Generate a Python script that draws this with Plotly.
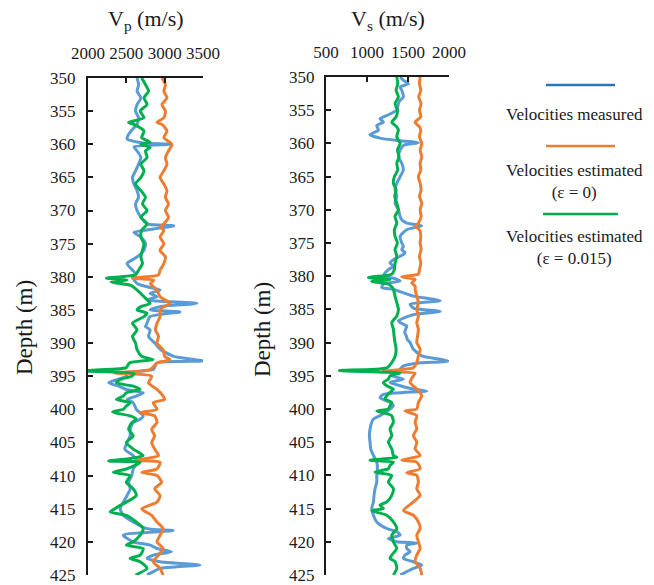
import plotly.graph_objects as go

# ---------------------------------------------------------------------------
# Well-log velocity profiles: P-wave (left track) and S-wave (right track)
# ---------------------------------------------------------------------------

# Vp, measured (m/s)
VP_MEAS_DEPTH = [
    350, 351, 352, 353, 354, 355, 356, 357, 357.5, 358.5,
    359.2, 359.8, 360, 360.4, 361, 362, 363, 364, 365, 366,
    367, 368, 369, 370, 371, 372, 372.3, 372.8, 373.3, 374,
    375, 376, 377, 378, 379, 379.5, 380, 381, 381.5, 382,
    382.5, 383, 383.5, 384, 384.5, 385, 385.3, 386, 387, 387.5,
    388, 389, 390, 391, 392, 392.7, 393, 394, 394.5, 395,
    396, 396.5, 397, 397.5, 398, 398.5, 399, 400, 401, 401.5,
    402, 403, 404, 405, 406, 407, 408, 409, 410, 411,
    412, 413, 414, 415, 416, 417, 418, 418.3, 419, 420,
    420.5, 421, 421.5, 422, 422.5, 423, 423.5, 424, 424.5, 425]
VP_MEAS = [
    2640, 2660, 2640, 2690, 2640, 2620, 2660, 2640, 2600, 2530,
    2510, 2720, 3070, 2600, 2640, 2690, 2660, 2620, 2580, 2600,
    2640, 2660, 2620, 2640, 2690, 2770, 3120, 2850, 2600, 2690,
    2750, 2730, 2640, 2510, 2580, 2620, 2580, 2640, 2770, 2940,
    2810, 2900, 2770, 3420, 2940, 2810, 3200, 2810, 2770, 2750,
    2810, 2790, 2870, 2950, 3120, 3500, 2900, 2850, 2500, 2500,
    2270, 2400, 2500, 2720, 2630, 2510, 2590, 2630, 2720, 2680,
    2590, 2550, 2550, 2510, 2480, 2590, 2640, 2590, 2570, 2530,
    2550, 2510, 2460, 2420, 2460, 2590, 2770, 3110, 2460, 2590,
    2810, 2900, 3090, 2850, 2770, 2940, 3460, 2940, 2850, 2770]

# Vp, estimated with epsilon = 0 (m/s)
VP_EPS0_DEPTH = [
    350, 351, 352, 353, 354, 355, 356, 356.7, 357, 358,
    359, 360, 361, 362, 363, 364, 365, 366, 367, 368,
    369, 370, 371, 372, 372.5, 373, 374, 375, 376, 377,
    378, 379, 379.7, 380.2, 380.5, 381, 382, 383, 384, 384.5,
    385, 386, 387, 388, 389, 390, 391, 392, 392.5, 393,
    394, 394.5, 395, 396, 397, 398, 398.5, 399, 400, 400.5,
    401, 402, 403, 404, 405, 406, 407, 407.7, 408, 409,
    409.5, 410, 411, 412, 413, 414, 415, 416, 417, 418,
    419, 420, 421, 422, 423, 424, 425]
VP_EPS0 = [
    2965, 3010, 2990, 3030, 2965, 3010, 2990, 2900, 2965, 3030,
    2990, 3095, 3050, 3010, 3030, 2990, 2940, 2990, 3030, 3010,
    3050, 3010, 3050, 2990, 2940, 2990, 2940, 2990, 2940, 3010,
    2990, 2940, 2920, 2580, 2860, 2815, 2900, 2940, 3070, 2990,
    2940, 2940, 2900, 2880, 2920, 2900, 2980, 3000, 3070, 2900,
    2810, 2350, 2830, 2790, 2900, 2980, 3000, 2850, 2900, 2680,
    2870, 2900, 2830, 2870, 2830, 2870, 2920, 2630, 2940, 2900,
    2700, 2900, 2960, 2870, 2940, 2900, 2700, 2830, 2900, 2980,
    2940, 2900, 2980, 2920, 2850, 2940, 2980]

# Vp, estimated with epsilon = 0.015 (m/s)
VP_EPS15_DEPTH = [
    350, 351, 352, 353, 354, 355, 356, 356.7, 357, 358,
    359, 359.7, 360, 360.5, 361, 362, 363, 364, 365, 366,
    367, 368, 369, 370, 371, 372, 373, 374, 375, 376,
    377, 378, 379, 379.7, 380.2, 380.5, 380.8, 381.3, 382, 383,
    384, 384.5, 385, 385.5, 386, 387, 388, 389, 390, 391,
    392, 392.5, 393, 393.7, 394.2, 394.6, 395, 395.5, 396, 396.5,
    397, 397.5, 398, 398.5, 399, 399.5, 400, 400.4, 401, 401.5,
    402, 403, 404, 405, 406, 407, 407.5, 407.8, 408, 409,
    409.5, 410, 411, 412, 413, 414, 414.5, 415, 415.5, 416,
    417, 418, 419, 420, 420.5, 421, 422, 422.5, 423, 424,
    425]
VP_EPS15 = [
    2700, 2750, 2790, 2730, 2770, 2680, 2730, 2530, 2600, 2730,
    2700, 2810, 2690, 2810, 2750, 2770, 2690, 2730, 2690, 2620,
    2690, 2750, 2710, 2770, 2690, 2770, 2700, 2690, 2730, 2710,
    2690, 2710, 2660, 2620, 2240, 2510, 2300, 2560, 2640, 2730,
    2810, 2690, 2640, 2770, 2730, 2580, 2640, 2580, 2620, 2640,
    2700, 2850, 2540, 2500, 1900, 2600, 2570, 2420, 2370, 2590,
    2680, 2500, 2460, 2370, 2550, 2500, 2460, 2320, 2550, 2630,
    2570, 2530, 2590, 2500, 2590, 2720, 2500, 2270, 2680, 2500,
    2330, 2550, 2500, 2590, 2630, 2500, 2420, 2350, 2290, 2500,
    2630, 2720, 2680, 2590, 2500, 2720, 2680, 2550, 2680, 2770,
    2620]

# Vs, measured (m/s)
VS_MEAS_DEPTH = [
    350, 350.5, 351, 351.5, 352, 353, 353.5, 354, 355, 355.8,
    356.3, 356.8, 357.3, 358, 358.7, 359.2, 359.6, 359.9, 360.3, 361,
    362, 363, 364, 365, 366, 367, 368, 369, 370, 371,
    371.5, 372, 372.4, 373, 374, 375, 375.5, 376, 376.5, 377,
    377.5, 378, 378.5, 379, 379.5, 380, 380.3, 380.7, 381.2, 381.7,
    382, 382.5, 383, 383.7, 384.2, 384.8, 385.3, 385.8, 386.3, 386.7,
    387, 387.5, 388, 388.5, 389, 389.5, 390, 391, 392, 392.5,
    392.8, 393.1, 393.5, 394, 394.5, 395, 395.5, 396, 396.5, 397,
    397.3, 397.8, 398.3, 399, 399.5, 400, 401, 401.5, 402, 403,
    404, 405, 406, 407, 408, 409, 410, 411, 412, 413,
    414, 415, 416, 417, 418, 418.5, 419, 419.5, 420, 420.2,
    420.5, 421, 421.5, 422, 422.5, 423, 423.5, 424, 424.5, 425]
VS_MEAS = [
    1404, 1444, 1505, 1404, 1424, 1444, 1404, 1383, 1363, 1241,
    1159, 1200, 1119, 1139, 1037, 1159, 1404, 1627, 1444, 1404,
    1383, 1424, 1444, 1404, 1363, 1342, 1363, 1342, 1383, 1404,
    1424, 1485, 1668, 1485, 1404, 1424, 1444, 1424, 1465, 1404,
    1322, 1281, 1322, 1261, 1220, 1200, 1322, 1404, 1200, 1180,
    1322, 1444, 1566, 1892, 1526, 1566, 1892, 1566, 1444, 1383,
    1404, 1485, 1470, 1460, 1480, 1490, 1526, 1566, 1668, 1892,
    1994, 1607, 1444, 1404, 1363, 1302, 1444, 1281, 1404, 1566,
    1729, 1200, 1159, 1281, 1322, 1281, 1159, 1078, 1058, 1037,
    1029, 1037, 1045, 1078, 1119, 1127, 1119, 1119, 1098, 1086,
    1078, 1058, 1078, 1119, 1241, 1363, 1404, 1261, 1363, 1607,
    1485, 1485, 1526, 1465, 1444, 1566, 1668, 1566, 1485, 1404]

# Vs, estimated with epsilon = 0 (m/s)
VS_EPS0_DEPTH = [
    350, 351, 352, 353, 354, 355, 356, 356.8, 357.5, 358,
    359, 360, 361, 362, 363, 364, 365, 366, 367, 368,
    369, 370, 371, 372, 372.5, 373, 374, 375, 376, 377,
    378, 379, 379.7, 380.1, 380.5, 381, 381.5, 382, 383, 384,
    385, 386, 387, 388, 389, 390, 391, 392, 393, 393.8,
    394.3, 394.6, 395, 396, 397, 398, 399, 400, 400.3, 401,
    402, 403, 404, 405, 406, 407, 407.7, 408, 409, 409.6,
    410, 411, 412, 413, 414, 415.3, 416, 417, 418, 419,
    420, 421, 422, 423, 424, 425]
VS_EPS0 = [
    1648, 1640, 1656, 1631, 1660, 1640, 1656, 1587, 1640, 1656,
    1640, 1668, 1648, 1668, 1648, 1656, 1627, 1648, 1660, 1640,
    1668, 1648, 1660, 1627, 1587, 1640, 1656, 1648, 1660, 1640,
    1656, 1640, 1627, 1424, 1587, 1546, 1587, 1587, 1607, 1627,
    1607, 1627, 1607, 1627, 1617, 1607, 1648, 1627, 1607, 1566,
    1200, 1587, 1566, 1526, 1607, 1668, 1627, 1607, 1465, 1607,
    1587, 1607, 1566, 1607, 1587, 1648, 1424, 1607, 1648, 1485,
    1607, 1627, 1607, 1648, 1566, 1444, 1566, 1627, 1648, 1607,
    1627, 1648, 1607, 1587, 1648, 1668]

# Vs, estimated with epsilon = 0.015 (m/s)
VS_EPS15_DEPTH = [
    350, 351, 352, 353, 354, 355, 356, 356.8, 357.5, 358,
    359, 360, 361, 362, 363, 364, 365, 366, 367, 368,
    369, 370, 371, 372, 373, 374, 375, 376, 377, 378,
    379, 379.7, 380.2, 380.5, 380.8, 381.2, 381.6, 382, 383, 384,
    385, 386, 387, 388, 389, 390, 391, 392, 393, 393.8,
    394.2, 394.6, 395, 395.5, 396, 396.5, 397, 397.5, 398, 398.5,
    399, 399.5, 400, 400.3, 400.7, 401, 402, 403, 404, 405,
    406, 407, 407.3, 407.7, 408, 408.5, 409, 409.5, 410, 411,
    412, 413, 414, 414.5, 415, 415.3, 416, 417, 418, 419,
    420, 421, 422, 422.5, 423, 424, 425]
VS_EPS15 = [
    1363, 1375, 1355, 1383, 1342, 1371, 1355, 1302, 1363, 1383,
    1363, 1404, 1371, 1391, 1363, 1375, 1334, 1322, 1355, 1338,
    1363, 1383, 1342, 1363, 1334, 1342, 1371, 1342, 1363, 1342,
    1334, 1302, 1017, 1281, 1057, 1261, 1302, 1322, 1342, 1363,
    1383, 1363, 1302, 1322, 1330, 1342, 1355, 1345, 1302, 1241,
    663, 1404, 1281, 1261, 1200, 1241, 1322, 1281, 1241, 1220,
    1302, 1281, 1261, 1119, 1241, 1302, 1322, 1281, 1302, 1261,
    1302, 1322, 1363, 1037, 1322, 1281, 1261, 1098, 1302, 1261,
    1322, 1302, 1241, 1159, 1200, 1058, 1241, 1322, 1363, 1302,
    1322, 1363, 1302, 1281, 1342, 1363, 1322]

VP_TICKS = [2000, 2500, 3000, 3500]
VS_TICKS = [500, 1000, 1500, 2000]
DEPTH_TICKS = list(range(350, 426, 5))

LEGEND_LABELS = ["Velocities measured",
                 "Velocities estimated<br>(\u03b5 = 0)",
                 "Velocities estimated<br>(\u03b5 = 0.015)"]

for d, v in [(VP_MEAS_DEPTH, VP_MEAS), (VP_EPS0_DEPTH, VP_EPS0),
             (VP_EPS15_DEPTH, VP_EPS15), (VS_MEAS_DEPTH, VS_MEAS),
             (VS_EPS0_DEPTH, VS_EPS0), (VS_EPS15_DEPTH, VS_EPS15)]:
    assert len(d) == len(v)

# ---------------------------------------------------------------------------
W, H = 654, 585
FONT = "Liberation Serif"
INK = "#1a1a1a"
BLUE, ORANGE, GREEN = "#5B9BD5", "#ED7D31", "#00B050"


def px_x(x):
    return x / W


def px_y(y):
    return 1 - y / H


fig = go.Figure()

series = [
    (VP_MEAS_DEPTH, VP_MEAS, BLUE, "x", "y"),
    (VP_EPS0_DEPTH, VP_EPS0, ORANGE, "x", "y"),
    (VP_EPS15_DEPTH, VP_EPS15, GREEN, "x", "y"),
    (VS_MEAS_DEPTH, VS_MEAS, BLUE, "x2", "y2"),
    (VS_EPS0_DEPTH, VS_EPS0, ORANGE, "x2", "y2"),
    (VS_EPS15_DEPTH, VS_EPS15, GREEN, "x2", "y2"),
]
for depth, vel, color, xa, ya in series:
    fig.add_trace(go.Scatter(
        x=vel, y=depth, mode="lines", xaxis=xa, yaxis=ya,
        line=dict(color=color, width=3, shape="spline", smoothing=0.6),
        showlegend=False, hoverinfo="skip"))

axis_common = dict(
    showline=True, linewidth=2, linecolor=INK,
    ticks="inside", ticklen=5, tickwidth=2, tickcolor=INK,
    showgrid=False, zeroline=False, automargin=False,
    ticklabeloverflow="allow",
    tickfont=dict(family=FONT, size=17, color=INK),
)

fig.update_layout(
    template="none",
    width=W, height=H,
    margin=dict(l=0, r=0, t=0, b=0, pad=0, autoexpand=False),
    font=dict(family=FONT, color=INK),
    paper_bgcolor="white", plot_bgcolor="white",
    showlegend=False,
    xaxis=dict(domain=[px_x(88), px_x(203)], range=[2000, 3500],
               tickvals=VP_TICKS, side="top", anchor="y",
               ticklabelstandoff=10, **axis_common),
    yaxis=dict(domain=[px_y(575), px_y(78)], range=[425, 350],
               tickvals=DEPTH_TICKS, anchor="x",
               ticklabelstandoff=7, **axis_common),
    xaxis2=dict(domain=[px_x(326), px_x(449)], range=[500, 2000],
                tickvals=VS_TICKS, side="top", anchor="y2",
                ticklabelstandoff=10, **axis_common),
    yaxis2=dict(domain=[px_y(575), px_y(77)], range=[425, 350],
                tickvals=DEPTH_TICKS, anchor="x2",
                ticklabelstandoff=6, **axis_common),
)

annotations = [
    dict(text="V<sub>p</sub> (m/s)", x=px_x(146), y=px_y(20), size=22),
    dict(text="V<sub>s</sub> (m/s)", x=px_x(388), y=px_y(20), size=22),
]
for a in annotations:
    fig.add_annotation(text=a["text"], x=a["x"], y=a["y"], xref="paper",
                       yref="paper", showarrow=False, xanchor="center",
                       yanchor="middle",
                       font=dict(family=FONT, size=a["size"], color=INK))

for xc, yc in [(24, 328), (262, 330)]:
    fig.add_annotation(text="Depth (m)", x=px_x(xc), y=px_y(yc),
                       xref="paper", yref="paper", showarrow=False,
                       textangle=-90, xanchor="center", yanchor="middle",
                       font=dict(family=FONT, size=23, color=INK))

# Legend: a colour swatch above each centred label
legend_items = [
    ("#2E75B6", 546, 615, 85, LEGEND_LABELS[0], 115),
    (ORANGE, 546, 615, 146, LEGEND_LABELS[1], 181),
    (GREEN, 543, 618, 214, LEGEND_LABELS[2], 247),
]
for color, x0, x1, ly, label, ty in legend_items:
    fig.add_shape(type="line", xref="paper", yref="paper",
                  x0=px_x(x0), x1=px_x(x1), y0=px_y(ly), y1=px_y(ly),
                  line=dict(color=color, width=2.5))
    fig.add_annotation(text=label, x=px_x(574), y=px_y(ty), xref="paper",
                       yref="paper", showarrow=False, xanchor="center",
                       yanchor="middle", align="center",
                       font=dict(family=FONT, size=17, color=INK))

fig.write_html("out.html")
